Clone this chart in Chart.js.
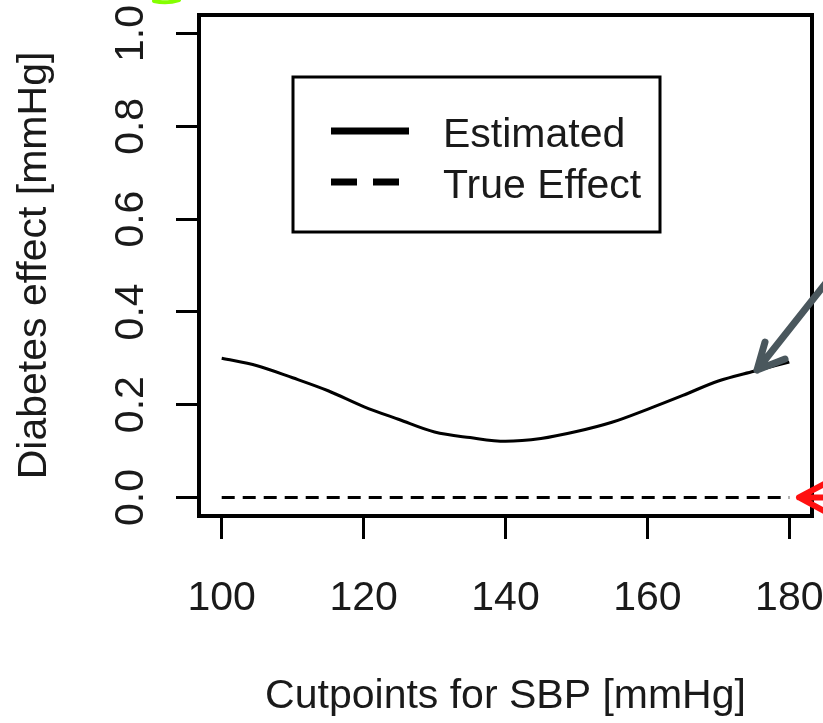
<!DOCTYPE html>
<html lang="en">
<head>
<meta charset="UTF-8">
<title>Diabetes effect</title>
<script src="https://cdn.jsdelivr.net/npm/chart.js"></script>
<style>
  html, body { margin: 0; padding: 0; background: #fff; }
  #wrap { width: 823px; height: 723px; }
</style>
</head>
<body>
<div id="wrap"><canvas id="effect-chart" width="823" height="723"></canvas></div>
<script>
  // values
  const sbpCutpoints = [100, 105, 110, 115, 120, 125, 130, 135, 140, 145, 150, 155, 160, 165, 170, 175, 180];
  const estimatedEffect = [0.300, 0.284, 0.258, 0.230, 0.196, 0.168, 0.141, 0.129, 0.121, 0.127, 0.142, 0.162, 0.190, 0.220, 0.251, 0.272, 0.292];
  const trueEffect = [0, 0, 0, 0, 0, 0, 0, 0, 0, 0, 0, 0, 0, 0, 0, 0, 0];
  const seriesNames = ["Estimated", "True Effect"];
  const xTicks = [100, 120, 140, 160, 180];
  const yTicks = [0, 0.2, 0.4, 0.6, 0.8, 1.0];

  const textColor = "#1a1a1a";
  const labelFont = '"Liberation Sans", Arial, sans-serif';
  const tickFont = '"Liberation Sans Narrow", "Arial Narrow", "Liberation Sans", sans-serif';

  const toPoints = (ys) => sbpCutpoints.map((x, i) => ({ x: x, y: ys[i] }));

  // box around the plot, legend inside it, and the arrows drawn on top of the figure
  const extrasPlugin = {
    id: "extras",
    afterDraw(chart) {
      const { ctx, chartArea: a, scales } = chart;
      ctx.save();

      ctx.lineWidth = 4;
      ctx.strokeStyle = "#000";
      ctx.strokeRect(a.left, a.top, a.right - a.left, a.bottom - a.top);

      // legend
      const bx = a.left + 94, by = a.top + 62, bw = 367, bh = 155;
      ctx.lineWidth = 3;
      ctx.strokeRect(bx, by, bw, bh);
      chart.data.datasets.forEach((ds, i) => {
        const ly = by + 54 + i * 51;
        ctx.beginPath();
        ctx.lineWidth = 7;
        ctx.lineCap = "butt";
        ctx.setLineDash(ds.borderDash && ds.borderDash.length ? [26, 16] : []);
        ctx.moveTo(bx + 38, ly);
        ctx.lineTo(bx + 116, ly);
        ctx.stroke();
        ctx.setLineDash([]);
        ctx.fillStyle = textColor;
        ctx.font = "41px " + labelFont;
        ctx.textBaseline = "alphabetic";
        ctx.textAlign = "left";
        ctx.fillText(ds.label, bx + 150, ly + 16);
      });

      // grey arrow pointing at the curve
      const gx = scales.x.getPixelForValue(175.45), gy = scales.y.getPixelForValue(0.2747);
      ctx.strokeStyle = "#4a575d";
      ctx.lineWidth = 7;
      ctx.lineCap = "round";
      ctx.lineJoin = "round";
      ctx.beginPath();
      ctx.moveTo(gx + 80, gy - 101);
      ctx.lineTo(gx, gy);
      ctx.moveTo(gx + 8, gy - 28);
      ctx.lineTo(gx, gy);
      ctx.lineTo(gx + 28, gy - 11);
      ctx.stroke();

      // red arrow at the true effect line
      const rx = scales.x.getPixelForValue(181.37), ry = scales.y.getPixelForValue(0);
      ctx.strokeStyle = "#ff1010";
      ctx.lineWidth = 6;
      ctx.beginPath();
      ctx.moveTo(rx + 28, ry - 15);
      ctx.lineTo(rx, ry);
      ctx.lineTo(rx + 28, ry + 15);
      ctx.moveTo(rx, ry);
      ctx.lineTo(rx + 30, ry);
      ctx.stroke();

      // green mark at the top edge
      ctx.strokeStyle = "#84ff00";
      ctx.lineWidth = 4;
      ctx.lineCap = "round";
      ctx.beginPath();
      ctx.moveTo(a.left - 45, a.top - 14);
      ctx.quadraticCurveTo(a.left - 32, a.top - 11, a.left - 20, a.top - 15);
      ctx.stroke();

      ctx.restore();
    }
  };

  new Chart(document.getElementById("effect-chart"), {
    type: "line",
    data: {
      datasets: [
        {
          label: seriesNames[0],
          data: toPoints(estimatedEffect),
          borderColor: "#000",
          borderWidth: 3,
          pointRadius: 0,
          cubicInterpolationMode: "monotone",
          fill: false,
        },
        {
          label: seriesNames[1],
          data: toPoints(trueEffect),
          borderColor: "#000",
          borderWidth: 3,
          borderDash: [13, 8],
          pointRadius: 0,
          fill: false,
        },
      ],
    },
    options: {
      responsive: false,
      animation: false,
      layout: { padding: { top: 15, right: 11, left: 0, bottom: 0 } },
      plugins: {
        legend: { display: false },
        tooltip: { enabled: false },
      },
      scales: {
        x: {
          type: "linear",
          min: 96.8,
          max: 183.2,
          afterBuildTicks: (s) => { s.ticks = xTicks.map((v) => ({ value: v })); },
          afterFit: (s) => { s.height = 207; s.paddingLeft = 0; s.paddingRight = 0; },
          border: { display: false },
          grid: { drawOnChartArea: false, tickLength: 23, tickWidth: 3, tickColor: "#000" },
          ticks: {
            autoSkip: false,
            maxRotation: 0,
            padding: 39,
            color: textColor,
            font: { family: tickFont, size: 41, lineHeight: 1 },
            callback: (v) => String(v),
          },
          title: {
            display: true,
            text: "Cutpoints for SBP [mmHg]",
            color: textColor,
            font: { family: labelFont, size: 41, lineHeight: 1 },
            padding: { top: 0, bottom: 6 },
          },
        },
        y: {
          type: "linear",
          min: -0.04,
          max: 1.04,
          afterBuildTicks: (s) => { s.ticks = yTicks.map((v) => ({ value: v })); },
          afterFit: (s) => { s.width = 199; s.paddingTop = 0; s.paddingBottom = 0; },
          border: { display: false },
          grid: { drawOnChartArea: false, tickLength: 23, tickWidth: 3, tickColor: "#000" },
          ticks: {
            minRotation: 90,
            maxRotation: 90,
            crossAlign: "center",
            padding: 16,
            color: textColor,
            font: { family: tickFont, size: 41, lineHeight: 1 },
            callback: (v) => v.toFixed(1),
          },
          title: {
            display: true,
            text: "Diabetes effect [mmHg]",
            color: textColor,
            font: { family: labelFont, size: 41, lineHeight: 1 },
            padding: { top: 14, bottom: 0 },
          },
        },
      },
    },
    plugins: [extrasPlugin],
  });
</script>
</body>
</html>
